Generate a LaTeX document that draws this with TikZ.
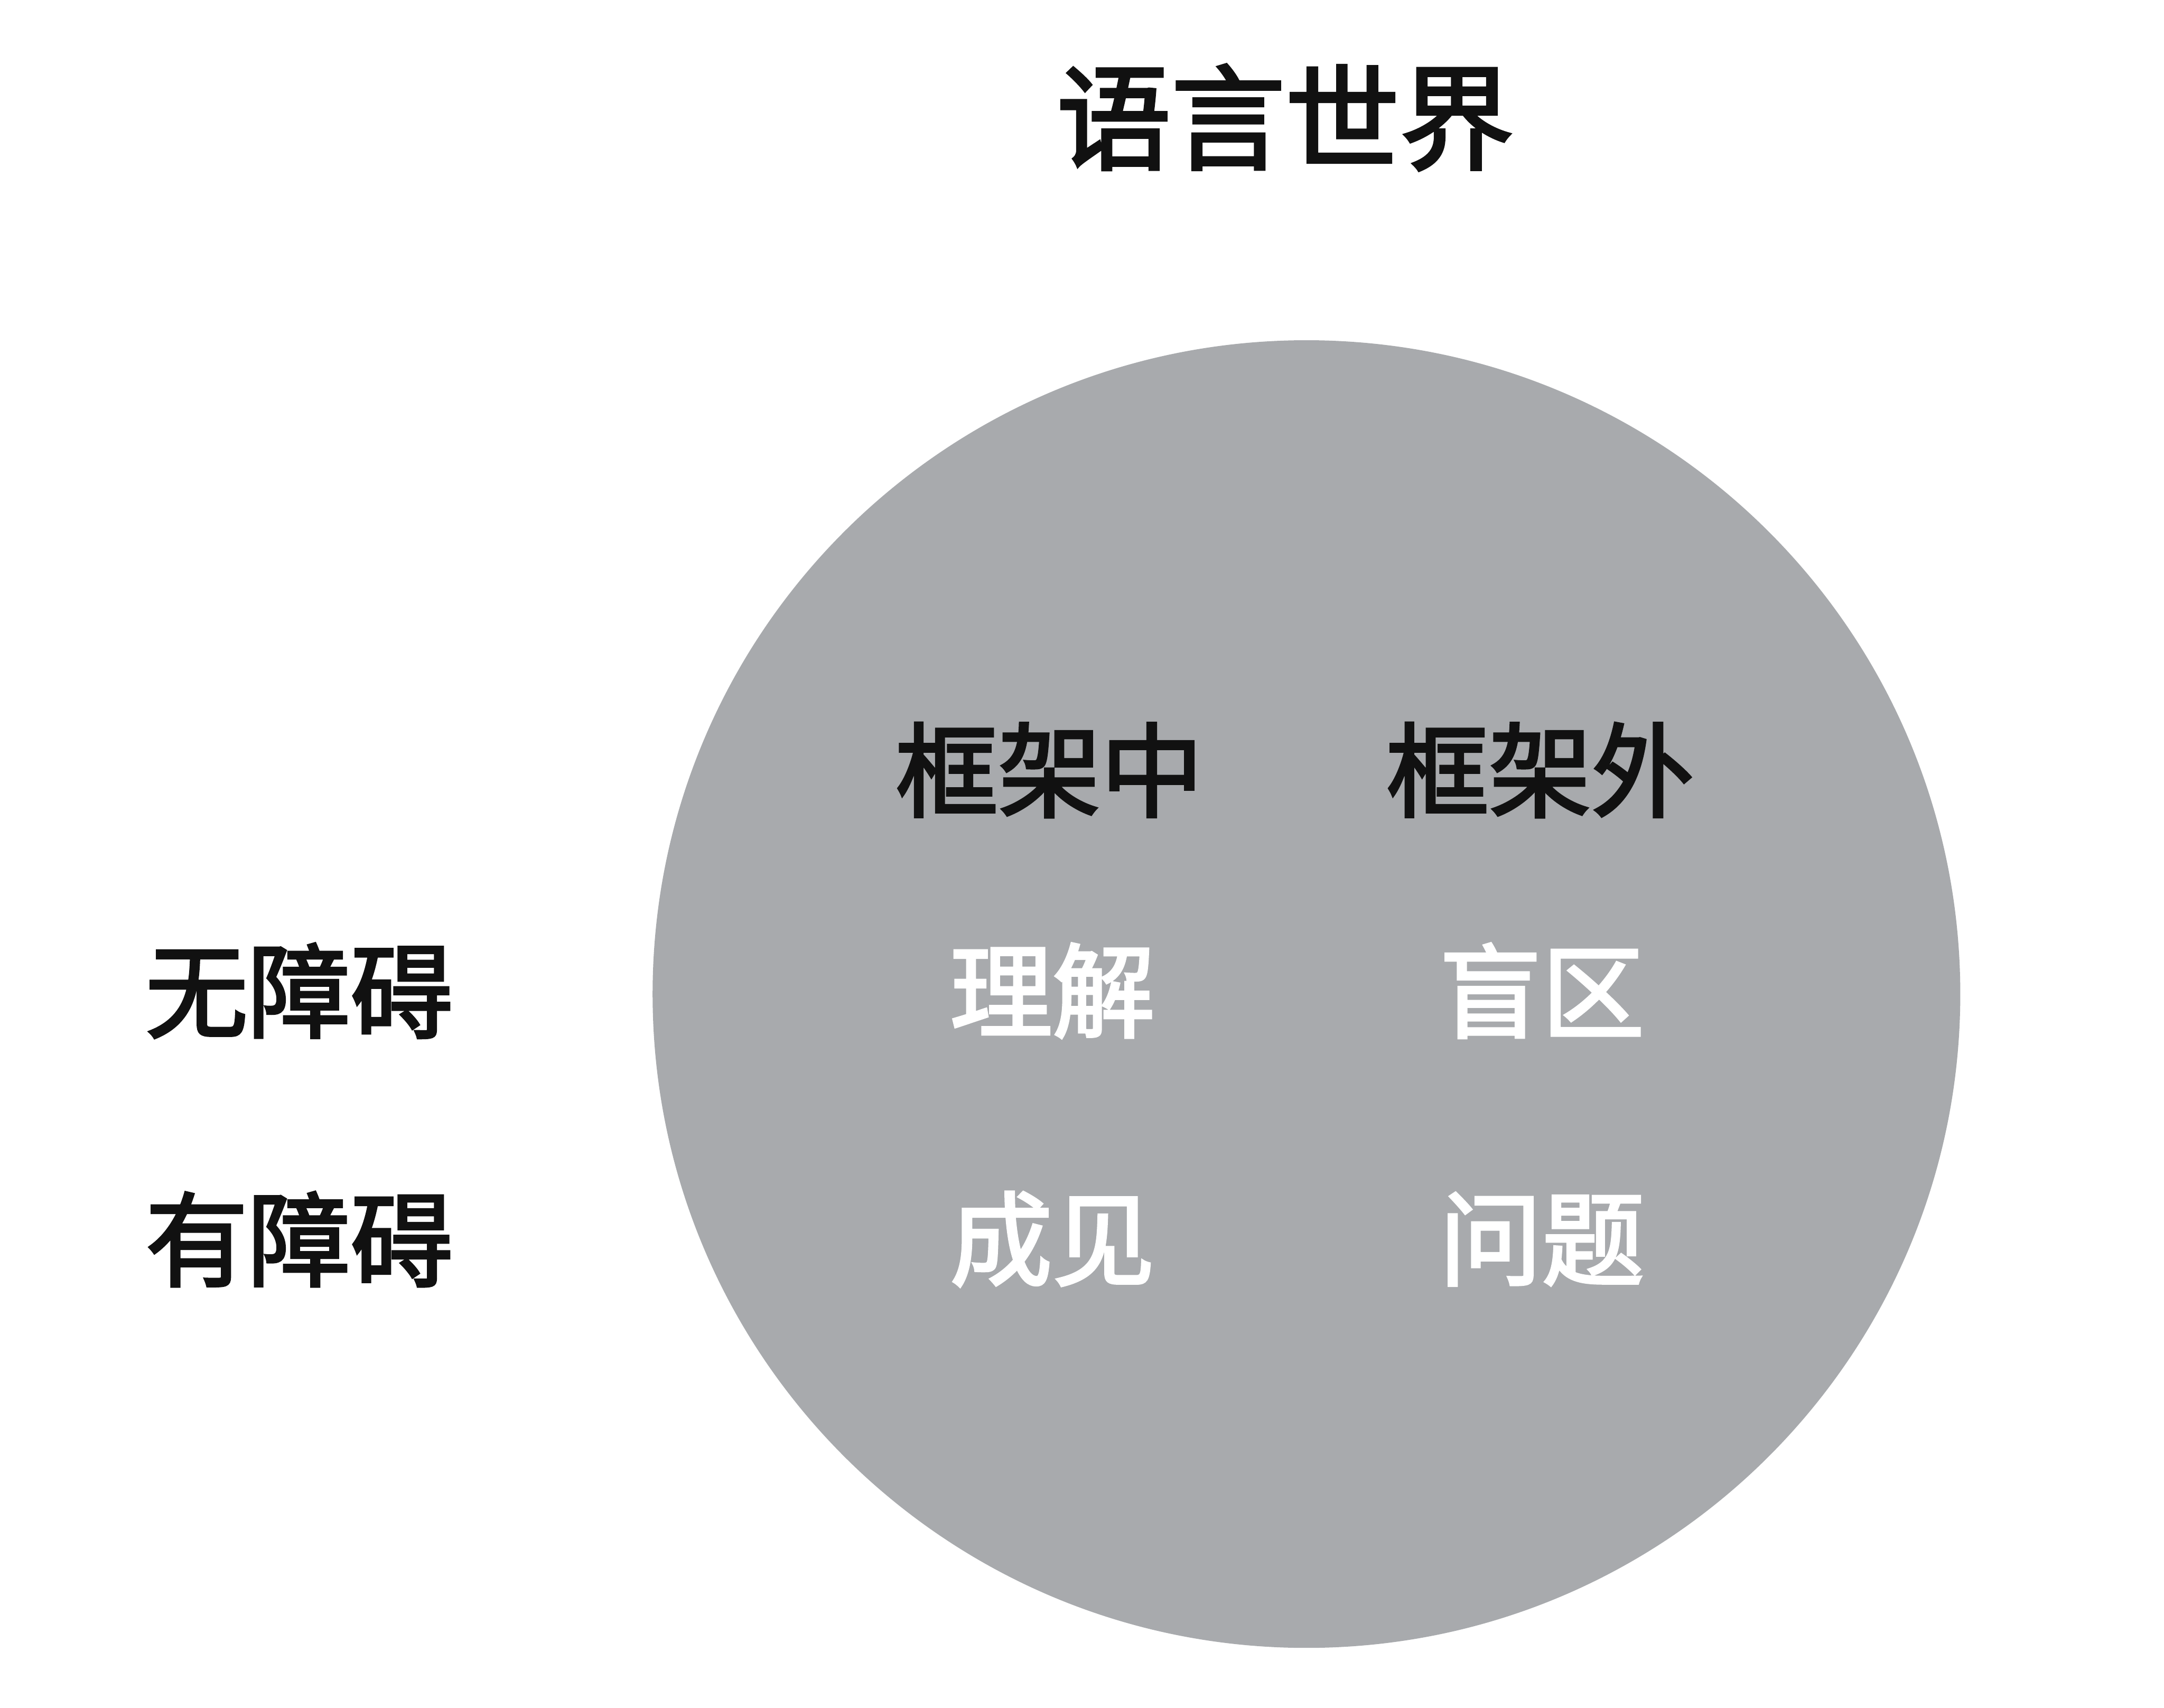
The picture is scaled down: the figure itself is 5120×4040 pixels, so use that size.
\documentclass[tikz,border=0pt]{standalone}
\usepackage{fontspec}
\setmainfont{Noto Sans CJK SC}
\newfontfamily\cjkmed{Noto Sans CJK SC}[FakeBold=2.5]
\definecolor{circgray}{HTML}{A8AAAD}
\definecolor{ink}{HTML}{111111}
\tikzset{
  title/.style={text=ink, inner sep=0pt, font=\cjkmed\fontsize{77}{80}\selectfont},
  head/.style={text=ink, inner sep=0pt, font=\cjkmed\fontsize{69}{72}\selectfont},
  cell/.style={text=white, inner sep=0pt, font=\cjkmed\fontsize{69}{72}\selectfont},
}
\begin{document}
\begin{tikzpicture}[x=0.1mm,y=-0.1mm]
\useasboundingbox (0,0) rectangle (5120,4040);
\fill[white] (0,0) rectangle (5120,4040);
\node[circle, fill=circgray, minimum size=309.4mm, inner sep=0pt] (world) at (3091,2352) {};
\node[title] (t) at (3041,278) {语言世界};
\node[head] (in) at (2483,1822) {框架中};
\node[head] (out) at (3644,1822) {框架外};
\node[head] (free) at (708,2344) {无障碍};
\node[head] (bar) at (708,2932) {有障碍};
\node[cell] (c11) at (2490,2344) {理解};
\node[cell] (c12) at (3648,2344) {盲区};
\node[cell] (c21) at (2490,2932) {成见};
\node[cell] (c22) at (3648,2932) {问题};
\end{tikzpicture}
\end{document}
